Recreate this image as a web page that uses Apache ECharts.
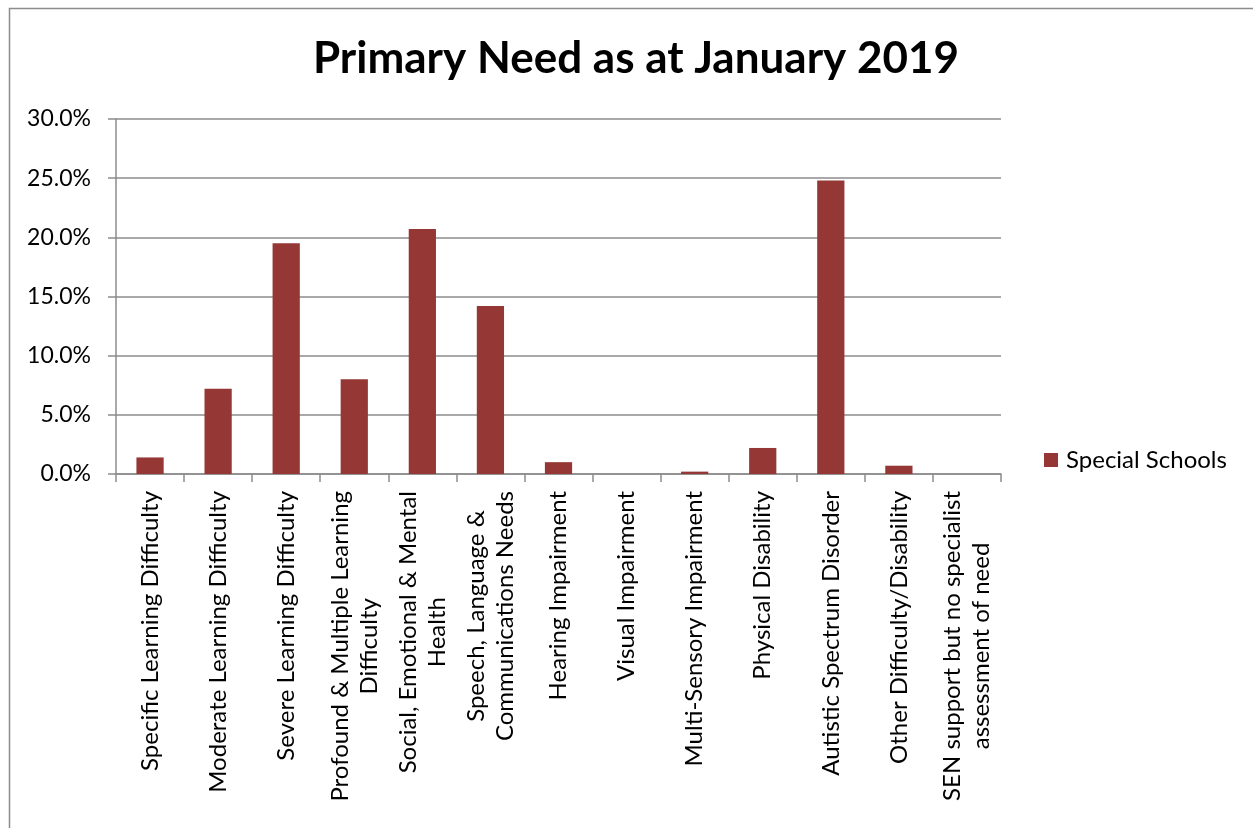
<!DOCTYPE html>
<html>
<head>
<meta charset="utf-8">
<script src="https://cdn.jsdelivr.net/npm/echarts@6/dist/echarts.min.js"></script>
<style>
  html, body { margin: 0; padding: 0; background: #fff; }
  #chart { width: 1253px; height: 828px; }
</style>
</head>
<body>
<div id="chart"></div>
<script>
// Primary need categories (line breaks where the axis labels wrap)
const categories = [
  'Specific Learning Difficulty',
  'Moderate Learning Difficulty',
  'Severe Learning Difficulty',
  'Profound & Multiple Learning\nDifficulty',
  'Social, Emotional & Mental\nHealth',
  'Speech, Language &\nCommunications Needs',
  'Hearing Impairment',
  'Visual Impairment',
  'Multi-Sensory Impairment',
  'Physical Disability',
  'Autistic Spectrum Disorder',
  'Other Difficulty/Disability',
  'SEN support but no specialist\nassessment of need'
];

// Share of pupils in special schools, percent
const specialSchools = [1.4, 7.2, 19.5, 8.0, 20.7, 14.2, 1.0, 0.0, 0.2, 2.2, 24.8, 0.7, 0.0];

const seriesName = 'Special Schools';
const titleText = 'Primary Need as at January 2019';

const FONT = 'Lato, "Open Sans", sans-serif';
const GRID = '#8c8c8c';
const LABEL_SIZE = 24;

const chart = echarts.init(document.getElementById('chart'), null, { renderer: 'canvas' });

chart.setOption({
  animation: false,
  backgroundColor: '#fff',
  textStyle: { fontFamily: FONT, color: '#000' },
  title: {
    text: titleText,
    left: 631,
    textAlign: 'center',
    top: 32,
    textStyle: { fontFamily: FONT, fontSize: 44, fontWeight: 'bold', color: '#000' }
  },
  legend: {
    data: [seriesName],
    left: 1044,
    top: 448,
    padding: 0,
    icon: 'rect',
    itemWidth: 14,
    itemHeight: 14,
    textStyle: { fontFamily: FONT, fontSize: LABEL_SIZE, color: '#000', padding: [0, 0, 0, 3] }
  },
  graphic: [{
    type: 'rect',
    left: 7,
    top: 6,
    shape: { width: 1400, height: 1000 },
    style: { fill: 'none', stroke: '#8c8c8c', lineWidth: 1.5 },
    silent: true,
    z: -1
  }],
  grid: { left: 116, top: 119, width: 885, height: 355, containLabel: false },
  xAxis: {
    type: 'category',
    data: categories,
    axisLine: { show: true, lineStyle: { color: GRID, width: 1.5 } },
    axisTick: { show: true, length: 8, lineStyle: { color: GRID, width: 1.5 } },
    axisLabel: {
      interval: 0,
      rotate: 90,
      margin: 17,
      fontFamily: FONT,
      fontSize: LABEL_SIZE,
      color: '#000',
      lineHeight: 29,
      formatter: function (v) {
        return v.split('\n').map(function (s) { return '{c|' + s + '}'; }).join('\n');
      },
      rich: { c: { align: 'center', fontFamily: FONT, fontSize: LABEL_SIZE, lineHeight: 29, color: '#000' } }
    }
  },
  yAxis: {
    type: 'value',
    min: 0,
    max: 30,
    interval: 5,
    axisLine: { show: true, lineStyle: { color: GRID, width: 1.5 } },
    axisTick: { show: true, length: 8, lineStyle: { color: GRID, width: 1.5 } },
    splitLine: { show: true, lineStyle: { color: GRID, width: 1.5 } },
    axisLabel: {
      margin: 25,
      fontFamily: FONT,
      fontSize: 23,
      color: '#000',
      formatter: function (v) { return v.toFixed(1) + '%'; }
    }
  },
  series: [{
    name: seriesName,
    type: 'bar',
    data: specialSchools,
    barCategoryGap: '60%',
    itemStyle: { color: '#953735' }
  }]
});
</script>
</body>
</html>
